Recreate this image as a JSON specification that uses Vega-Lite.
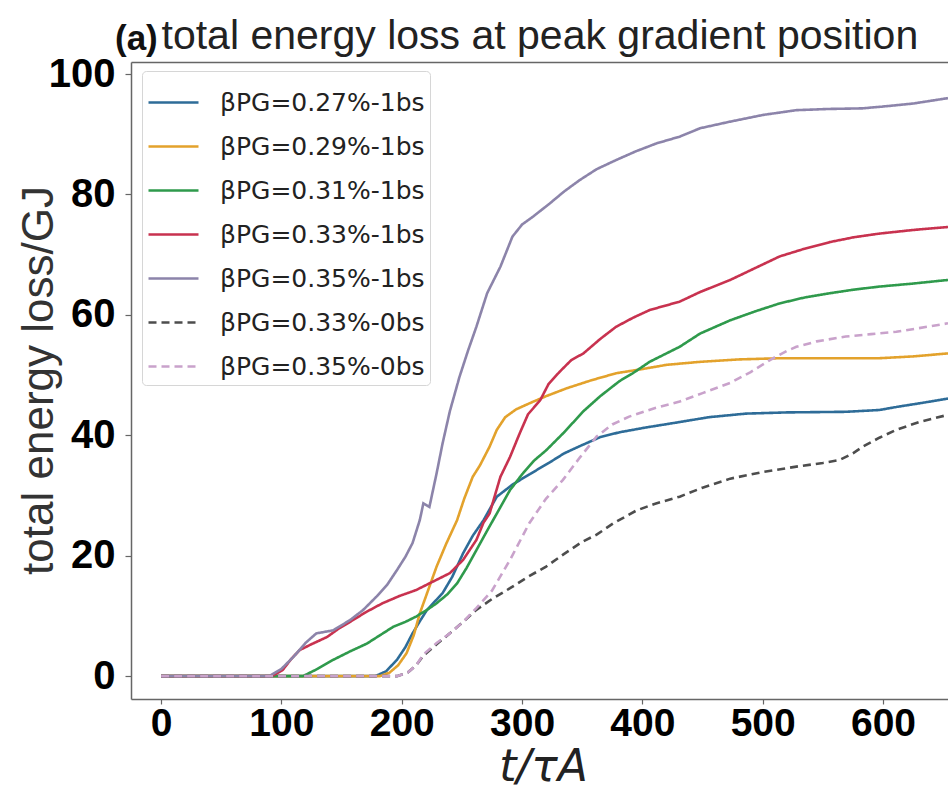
{
  "$schema": "https://vega.github.io/schema/vega-lite/v6.json",
  "width": 817,
  "height": 637,
  "autosize": {"type": "none"},
  "padding": {"left": 131, "top": 62, "right": 0, "bottom": 91},
  "background": "white",
  "title": {
    "text": "(a)",
    "anchor": "start",
    "frame": "group",
    "dx": -16,
    "dy": 46,
    "font": "Liberation Sans",
    "fontSize": 35,
    "fontWeight": "bold",
    "color": "#111"
  },
  "config": {
    "view": {"stroke": null},
    "axis": {
      "domainColor": "#666",
      "domainWidth": 1.5,
      "tickColor": "#666",
      "tickWidth": 1.2,
      "grid": false
    }
  },
  "datasets": {
    "curves": [
      {"s": "βPG=0.27%-1bs", "t": 0, "e": 0}, {"s": "βPG=0.27%-1bs", "t": 178, "e": 0}, {"s": "βPG=0.27%-1bs", "t": 187, "e": 0.8}, {"s": "βPG=0.27%-1bs", "t": 196, "e": 2.7}, {"s": "βPG=0.27%-1bs", "t": 203, "e": 4.8}, {"s": "βPG=0.27%-1bs", "t": 209, "e": 7.1}, {"s": "βPG=0.27%-1bs", "t": 215, "e": 9.1}, {"s": "βPG=0.27%-1bs", "t": 221, "e": 11}, {"s": "βPG=0.27%-1bs", "t": 228, "e": 12.5}, {"s": "βPG=0.27%-1bs", "t": 234, "e": 13.8}, {"s": "βPG=0.27%-1bs", "t": 242, "e": 16.5}, {"s": "βPG=0.27%-1bs", "t": 251, "e": 20.4}, {"s": "βPG=0.27%-1bs", "t": 259, "e": 23.3}, {"s": "βPG=0.27%-1bs", "t": 268, "e": 25.9}, {"s": "βPG=0.27%-1bs", "t": 279, "e": 29.8}, {"s": "βPG=0.27%-1bs", "t": 292, "e": 31.8}, {"s": "βPG=0.27%-1bs", "t": 306, "e": 33.5}, {"s": "βPG=0.27%-1bs", "t": 323, "e": 35.5}, {"s": "βPG=0.27%-1bs", "t": 335, "e": 37}, {"s": "βPG=0.27%-1bs", "t": 348, "e": 38.2}, {"s": "βPG=0.27%-1bs", "t": 365, "e": 39.7}, {"s": "βPG=0.27%-1bs", "t": 381, "e": 40.5}, {"s": "βPG=0.27%-1bs", "t": 403, "e": 41.3}, {"s": "βPG=0.27%-1bs", "t": 431, "e": 42.2}, {"s": "βPG=0.27%-1bs", "t": 455, "e": 43}, {"s": "βPG=0.27%-1bs", "t": 486, "e": 43.6}, {"s": "βPG=0.27%-1bs", "t": 520, "e": 43.8}, {"s": "βPG=0.27%-1bs", "t": 569, "e": 43.9}, {"s": "βPG=0.27%-1bs", "t": 597, "e": 44.2}, {"s": "βPG=0.27%-1bs", "t": 611, "e": 44.7}, {"s": "βPG=0.27%-1bs", "t": 630, "e": 45.3}, {"s": "βPG=0.27%-1bs", "t": 654, "e": 46.1},

      {"s": "βPG=0.29%-1bs", "t": 0, "e": 0}, {"s": "βPG=0.29%-1bs", "t": 182, "e": 0}, {"s": "βPG=0.29%-1bs", "t": 190, "e": 0.6}, {"s": "βPG=0.29%-1bs", "t": 197, "e": 1.8}, {"s": "βPG=0.29%-1bs", "t": 204, "e": 3.8}, {"s": "βPG=0.29%-1bs", "t": 210, "e": 6.8}, {"s": "βPG=0.29%-1bs", "t": 215, "e": 10.4}, {"s": "βPG=0.29%-1bs", "t": 222, "e": 14.3}, {"s": "βPG=0.29%-1bs", "t": 229, "e": 18.2}, {"s": "βPG=0.29%-1bs", "t": 237, "e": 22}, {"s": "βPG=0.29%-1bs", "t": 246, "e": 25.9}, {"s": "βPG=0.29%-1bs", "t": 252, "e": 29.5}, {"s": "βPG=0.29%-1bs", "t": 259, "e": 33.1}, {"s": "βPG=0.29%-1bs", "t": 265, "e": 35}, {"s": "βPG=0.29%-1bs", "t": 273, "e": 38.1}, {"s": "βPG=0.29%-1bs", "t": 279, "e": 40.9}, {"s": "βPG=0.29%-1bs", "t": 286, "e": 43}, {"s": "βPG=0.29%-1bs", "t": 295, "e": 44.3}, {"s": "βPG=0.29%-1bs", "t": 306, "e": 45.3}, {"s": "βPG=0.29%-1bs", "t": 320, "e": 46.5}, {"s": "βPG=0.29%-1bs", "t": 337, "e": 47.8}, {"s": "βPG=0.29%-1bs", "t": 357, "e": 49.1}, {"s": "βPG=0.29%-1bs", "t": 378, "e": 50.3}, {"s": "βPG=0.29%-1bs", "t": 400, "e": 51}, {"s": "βPG=0.29%-1bs", "t": 420, "e": 51.7}, {"s": "βPG=0.29%-1bs", "t": 448, "e": 52.2}, {"s": "βPG=0.29%-1bs", "t": 480, "e": 52.6}, {"s": "βPG=0.29%-1bs", "t": 514, "e": 52.8}, {"s": "βPG=0.29%-1bs", "t": 555, "e": 52.8}, {"s": "βPG=0.29%-1bs", "t": 597, "e": 52.8}, {"s": "βPG=0.29%-1bs", "t": 625, "e": 53.1}, {"s": "βPG=0.29%-1bs", "t": 654, "e": 53.6},

      {"s": "βPG=0.31%-1bs", "t": 0, "e": 0}, {"s": "βPG=0.31%-1bs", "t": 118, "e": 0}, {"s": "βPG=0.31%-1bs", "t": 130, "e": 1.2}, {"s": "βPG=0.31%-1bs", "t": 143, "e": 2.7}, {"s": "βPG=0.31%-1bs", "t": 157, "e": 4.1}, {"s": "βPG=0.31%-1bs", "t": 171, "e": 5.4}, {"s": "βPG=0.31%-1bs", "t": 182, "e": 6.8}, {"s": "βPG=0.31%-1bs", "t": 193, "e": 8.2}, {"s": "βPG=0.31%-1bs", "t": 203, "e": 9}, {"s": "βPG=0.31%-1bs", "t": 212, "e": 9.9}, {"s": "βPG=0.31%-1bs", "t": 221, "e": 11}, {"s": "βPG=0.31%-1bs", "t": 229, "e": 12.1}, {"s": "βPG=0.31%-1bs", "t": 238, "e": 13.6}, {"s": "βPG=0.31%-1bs", "t": 246, "e": 15.4}, {"s": "βPG=0.31%-1bs", "t": 254, "e": 18}, {"s": "βPG=0.31%-1bs", "t": 262, "e": 20.9}, {"s": "βPG=0.31%-1bs", "t": 270, "e": 23.8}, {"s": "βPG=0.31%-1bs", "t": 279, "e": 27}, {"s": "βPG=0.31%-1bs", "t": 290, "e": 30.9}, {"s": "βPG=0.31%-1bs", "t": 300, "e": 33.5}, {"s": "βPG=0.31%-1bs", "t": 310, "e": 35.8}, {"s": "βPG=0.31%-1bs", "t": 320, "e": 37.5}, {"s": "βPG=0.31%-1bs", "t": 335, "e": 40.5}, {"s": "βPG=0.31%-1bs", "t": 351, "e": 44}, {"s": "βPG=0.31%-1bs", "t": 365, "e": 46.5}, {"s": "βPG=0.31%-1bs", "t": 381, "e": 49}, {"s": "βPG=0.31%-1bs", "t": 392, "e": 50.3}, {"s": "βPG=0.31%-1bs", "t": 406, "e": 52.2}, {"s": "βPG=0.31%-1bs", "t": 420, "e": 53.6}, {"s": "βPG=0.31%-1bs", "t": 431, "e": 54.7}, {"s": "βPG=0.31%-1bs", "t": 448, "e": 56.9}, {"s": "βPG=0.31%-1bs", "t": 473, "e": 59.1}, {"s": "βPG=0.31%-1bs", "t": 494, "e": 60.6}, {"s": "βPG=0.31%-1bs", "t": 514, "e": 61.9}, {"s": "βPG=0.31%-1bs", "t": 535, "e": 62.9}, {"s": "βPG=0.31%-1bs", "t": 556, "e": 63.6}, {"s": "βPG=0.31%-1bs", "t": 576, "e": 64.2}, {"s": "βPG=0.31%-1bs", "t": 597, "e": 64.7}, {"s": "βPG=0.31%-1bs", "t": 625, "e": 65.2}, {"s": "βPG=0.31%-1bs", "t": 654, "e": 65.8},

      {"s": "βPG=0.33%-1bs", "t": 0, "e": 0}, {"s": "βPG=0.33%-1bs", "t": 92, "e": 0}, {"s": "βPG=0.33%-1bs", "t": 101, "e": 1}, {"s": "βPG=0.33%-1bs", "t": 108, "e": 2.8}, {"s": "βPG=0.33%-1bs", "t": 115, "e": 4.3}, {"s": "βPG=0.33%-1bs", "t": 125, "e": 5.3}, {"s": "βPG=0.33%-1bs", "t": 138, "e": 6.5}, {"s": "βPG=0.33%-1bs", "t": 147, "e": 7.8}, {"s": "βPG=0.33%-1bs", "t": 157, "e": 9}, {"s": "βPG=0.33%-1bs", "t": 170, "e": 10.6}, {"s": "βPG=0.33%-1bs", "t": 184, "e": 12.1}, {"s": "βPG=0.33%-1bs", "t": 198, "e": 13.3}, {"s": "βPG=0.33%-1bs", "t": 212, "e": 14.3}, {"s": "βPG=0.33%-1bs", "t": 222, "e": 15.3}, {"s": "βPG=0.33%-1bs", "t": 229, "e": 16}, {"s": "βPG=0.33%-1bs", "t": 240, "e": 17.1}, {"s": "βPG=0.33%-1bs", "t": 251, "e": 19.3}, {"s": "βPG=0.33%-1bs", "t": 262, "e": 22.6}, {"s": "βPG=0.33%-1bs", "t": 268, "e": 25.5}, {"s": "βPG=0.33%-1bs", "t": 273, "e": 27}, {"s": "βPG=0.33%-1bs", "t": 282, "e": 33.1}, {"s": "βPG=0.33%-1bs", "t": 290, "e": 36.4}, {"s": "βPG=0.33%-1bs", "t": 298, "e": 40.3}, {"s": "βPG=0.33%-1bs", "t": 305, "e": 43.5}, {"s": "βPG=0.33%-1bs", "t": 315, "e": 45.8}, {"s": "βPG=0.33%-1bs", "t": 322, "e": 48.5}, {"s": "βPG=0.33%-1bs", "t": 331, "e": 50.5}, {"s": "βPG=0.33%-1bs", "t": 341, "e": 52.5}, {"s": "βPG=0.33%-1bs", "t": 351, "e": 53.6}, {"s": "βPG=0.33%-1bs", "t": 365, "e": 56}, {"s": "βPG=0.33%-1bs", "t": 378, "e": 58}, {"s": "βPG=0.33%-1bs", "t": 392, "e": 59.5}, {"s": "βPG=0.33%-1bs", "t": 406, "e": 60.8}, {"s": "βPG=0.33%-1bs", "t": 431, "e": 62.2}, {"s": "βPG=0.33%-1bs", "t": 448, "e": 63.8}, {"s": "βPG=0.33%-1bs", "t": 473, "e": 65.8}, {"s": "βPG=0.33%-1bs", "t": 494, "e": 67.8}, {"s": "βPG=0.33%-1bs", "t": 514, "e": 69.7}, {"s": "βPG=0.33%-1bs", "t": 535, "e": 71}, {"s": "βPG=0.33%-1bs", "t": 556, "e": 72.1}, {"s": "βPG=0.33%-1bs", "t": 576, "e": 72.9}, {"s": "βPG=0.33%-1bs", "t": 597, "e": 73.5}, {"s": "βPG=0.33%-1bs", "t": 625, "e": 74.1}, {"s": "βPG=0.33%-1bs", "t": 654, "e": 74.6},

      {"s": "βPG=0.35%-1bs", "t": 0, "e": 0}, {"s": "βPG=0.35%-1bs", "t": 90, "e": 0}, {"s": "βPG=0.35%-1bs", "t": 100, "e": 1.2}, {"s": "βPG=0.35%-1bs", "t": 110, "e": 3.2}, {"s": "βPG=0.35%-1bs", "t": 120, "e": 5.5}, {"s": "βPG=0.35%-1bs", "t": 129, "e": 7.1}, {"s": "βPG=0.35%-1bs", "t": 143, "e": 7.6}, {"s": "βPG=0.35%-1bs", "t": 157, "e": 9.3}, {"s": "βPG=0.35%-1bs", "t": 168, "e": 11}, {"s": "βPG=0.35%-1bs", "t": 179, "e": 13.2}, {"s": "βPG=0.35%-1bs", "t": 188, "e": 15.2}, {"s": "βPG=0.35%-1bs", "t": 196, "e": 17.6}, {"s": "βPG=0.35%-1bs", "t": 203, "e": 19.8}, {"s": "βPG=0.35%-1bs", "t": 209, "e": 22.1}, {"s": "βPG=0.35%-1bs", "t": 215, "e": 25.9}, {"s": "βPG=0.35%-1bs", "t": 218, "e": 28.7}, {"s": "βPG=0.35%-1bs", "t": 223, "e": 28.1}, {"s": "βPG=0.35%-1bs", "t": 229, "e": 33.7}, {"s": "βPG=0.35%-1bs", "t": 234, "e": 38.7}, {"s": "βPG=0.35%-1bs", "t": 240, "e": 44}, {"s": "βPG=0.35%-1bs", "t": 248, "e": 49.7}, {"s": "βPG=0.35%-1bs", "t": 255, "e": 54}, {"s": "βPG=0.35%-1bs", "t": 262, "e": 58}, {"s": "βPG=0.35%-1bs", "t": 271, "e": 63.6}, {"s": "βPG=0.35%-1bs", "t": 282, "e": 68}, {"s": "βPG=0.35%-1bs", "t": 292, "e": 73}, {"s": "βPG=0.35%-1bs", "t": 300, "e": 75}, {"s": "βPG=0.35%-1bs", "t": 309, "e": 76.3}, {"s": "βPG=0.35%-1bs", "t": 323, "e": 78.5}, {"s": "βPG=0.35%-1bs", "t": 335, "e": 80.5}, {"s": "βPG=0.35%-1bs", "t": 348, "e": 82.4}, {"s": "βPG=0.35%-1bs", "t": 362, "e": 84.2}, {"s": "βPG=0.35%-1bs", "t": 378, "e": 85.7}, {"s": "βPG=0.35%-1bs", "t": 395, "e": 87.2}, {"s": "βPG=0.35%-1bs", "t": 412, "e": 88.5}, {"s": "βPG=0.35%-1bs", "t": 431, "e": 89.6}, {"s": "βPG=0.35%-1bs", "t": 448, "e": 91}, {"s": "βPG=0.35%-1bs", "t": 473, "e": 92.1}, {"s": "βPG=0.35%-1bs", "t": 500, "e": 93.2}, {"s": "βPG=0.35%-1bs", "t": 528, "e": 94}, {"s": "βPG=0.35%-1bs", "t": 555, "e": 94.2}, {"s": "βPG=0.35%-1bs", "t": 583, "e": 94.3}, {"s": "βPG=0.35%-1bs", "t": 605, "e": 94.7}, {"s": "βPG=0.35%-1bs", "t": 625, "e": 95.1}, {"s": "βPG=0.35%-1bs", "t": 654, "e": 96},

      {"s": "βPG=0.33%-0bs", "t": 0, "e": 0}, {"s": "βPG=0.33%-0bs", "t": 196, "e": 0}, {"s": "βPG=0.33%-0bs", "t": 205, "e": 0.6}, {"s": "βPG=0.33%-0bs", "t": 212, "e": 1.8}, {"s": "βPG=0.33%-0bs", "t": 218, "e": 3.4}, {"s": "βPG=0.33%-0bs", "t": 229, "e": 5.3}, {"s": "βPG=0.33%-0bs", "t": 240, "e": 7.1}, {"s": "βPG=0.33%-0bs", "t": 251, "e": 9}, {"s": "βPG=0.33%-0bs", "t": 262, "e": 11}, {"s": "βPG=0.33%-0bs", "t": 275, "e": 12.8}, {"s": "βPG=0.33%-0bs", "t": 290, "e": 14.6}, {"s": "βPG=0.33%-0bs", "t": 305, "e": 16.5}, {"s": "βPG=0.33%-0bs", "t": 320, "e": 18.2}, {"s": "βPG=0.33%-0bs", "t": 335, "e": 20.3}, {"s": "βPG=0.33%-0bs", "t": 350, "e": 22.3}, {"s": "βPG=0.33%-0bs", "t": 362, "e": 23.5}, {"s": "βPG=0.33%-0bs", "t": 376, "e": 25.4}, {"s": "βPG=0.33%-0bs", "t": 395, "e": 27.5}, {"s": "βPG=0.33%-0bs", "t": 410, "e": 28.6}, {"s": "βPG=0.33%-0bs", "t": 431, "e": 29.8}, {"s": "βPG=0.33%-0bs", "t": 450, "e": 31.3}, {"s": "βPG=0.33%-0bs", "t": 473, "e": 32.8}, {"s": "βPG=0.33%-0bs", "t": 500, "e": 33.9}, {"s": "βPG=0.33%-0bs", "t": 528, "e": 34.8}, {"s": "βPG=0.33%-0bs", "t": 550, "e": 35.4}, {"s": "βPG=0.33%-0bs", "t": 564, "e": 35.9}, {"s": "βPG=0.33%-0bs", "t": 575, "e": 37}, {"s": "βPG=0.33%-0bs", "t": 583, "e": 38.1}, {"s": "βPG=0.33%-0bs", "t": 597, "e": 39.6}, {"s": "βPG=0.33%-0bs", "t": 611, "e": 40.9}, {"s": "βPG=0.33%-0bs", "t": 630, "e": 42.2}, {"s": "βPG=0.33%-0bs", "t": 654, "e": 43.4},

      {"s": "βPG=0.35%-0bs", "t": 0, "e": 0}, {"s": "βPG=0.35%-0bs", "t": 196, "e": 0}, {"s": "βPG=0.35%-0bs", "t": 205, "e": 0.6}, {"s": "βPG=0.35%-0bs", "t": 212, "e": 1.8}, {"s": "βPG=0.35%-0bs", "t": 218, "e": 3.6}, {"s": "βPG=0.35%-0bs", "t": 229, "e": 5.5}, {"s": "βPG=0.35%-0bs", "t": 240, "e": 7.1}, {"s": "βPG=0.35%-0bs", "t": 251, "e": 9}, {"s": "βPG=0.35%-0bs", "t": 262, "e": 11.3}, {"s": "βPG=0.35%-0bs", "t": 275, "e": 14.2}, {"s": "βPG=0.35%-0bs", "t": 290, "e": 19.3}, {"s": "βPG=0.35%-0bs", "t": 306, "e": 25.4}, {"s": "βPG=0.35%-0bs", "t": 320, "e": 29.5}, {"s": "βPG=0.35%-0bs", "t": 334, "e": 32.6}, {"s": "βPG=0.35%-0bs", "t": 348, "e": 36.3}, {"s": "βPG=0.35%-0bs", "t": 362, "e": 39.8}, {"s": "βPG=0.35%-0bs", "t": 375, "e": 41.8}, {"s": "βPG=0.35%-0bs", "t": 389, "e": 43.1}, {"s": "βPG=0.35%-0bs", "t": 410, "e": 44.5}, {"s": "βPG=0.35%-0bs", "t": 431, "e": 45.6}, {"s": "βPG=0.35%-0bs", "t": 450, "e": 47}, {"s": "βPG=0.35%-0bs", "t": 473, "e": 48.7}, {"s": "βPG=0.35%-0bs", "t": 490, "e": 50.5}, {"s": "βPG=0.35%-0bs", "t": 506, "e": 52.5}, {"s": "βPG=0.35%-0bs", "t": 520, "e": 54}, {"s": "βPG=0.35%-0bs", "t": 528, "e": 54.7}, {"s": "βPG=0.35%-0bs", "t": 545, "e": 55.6}, {"s": "βPG=0.35%-0bs", "t": 569, "e": 56.4}, {"s": "βPG=0.35%-0bs", "t": 590, "e": 56.8}, {"s": "βPG=0.35%-0bs", "t": 611, "e": 57.2}, {"s": "βPG=0.35%-0bs", "t": 630, "e": 57.8}, {"s": "βPG=0.35%-0bs", "t": 654, "e": 58.6}
    ]
  },
  "data": {"name": "curves"},
  "resolve": {"axis": {"x": "independent"}},
  "layer": [
    {
      "mark": {"type": "line", "strokeWidth": 2.6, "clip": true},
      "encoding": {
        "x": {
          "field": "t", "type": "quantitative",
          "scale": {"domain": [-25, 654], "nice": false, "zero": false},
          "axis": {
            "orient": "bottom",
            "values": [0, 100, 200, 300, 400, 500, 600],
            "labelFont": "Liberation Sans",
            "labelFontSize": 39,
            "labelFontWeight": "bold",
            "labelColor": "#000",
            "tickSize": 5,
            "labelPadding": 0,
            "title": "t/τA",
            "titleFont": "DejaVu Sans",
            "titleFontStyle": "italic",
            "titleFontWeight": "normal",
            "titleFontSize": 44,
            "titleColor": "#222",
            "titleX": 412,
            "titleY": 81,
            "titleBaseline": "alphabetic"
          }
        },
        "y": {
          "field": "e", "type": "quantitative",
          "scale": {"domain": [-3.8, 102], "nice": false, "zero": false},
          "axis": {
            "values": [0, 20, 40, 60, 80, 100],
            "labelFont": "Liberation Sans",
            "labelFontSize": 40,
            "labelFontWeight": "bold",
            "labelColor": "#000",
            "tickSize": 6,
            "labelPadding": 10,
            "title": "total energy loss/GJ",
            "titleFont": "Liberation Sans",
            "titleFontWeight": "normal",
            "titleFontSize": 44,
            "titleColor": "#333",
            "titleX": -92,
            "titleY": 318,
            "titleBaseline": "middle"
          }
        },
        "color": {
          "field": "s", "type": "nominal",
          "scale": {
            "domain": ["βPG=0.27%-1bs", "βPG=0.29%-1bs", "βPG=0.31%-1bs", "βPG=0.33%-1bs", "βPG=0.35%-1bs", "βPG=0.33%-0bs", "βPG=0.35%-0bs"],
            "range": ["#2e6c98", "#e3a22c", "#2f9a4c", "#c8324f", "#8c84aa", "#4d4d4d", "#c9a2cb"]
          },
          "legend": {
            "title": null,
            "orient": "none",
            "legendX": 11,
            "legendY": 9,
            "symbolType": "stroke",
            "symbolSize": 2500,
            "symbolStrokeWidth": 2.6,
            "labelFont": "DejaVu Sans",
            "labelFontSize": 25,
            "labelColor": "#222",
            "labelOffset": 20,
            "labelLimit": 500,
            "rowPadding": 4,
            "padding": 5,
            "strokeColor": "#d6d6d6",
            "fillColor": "white",
            "cornerRadius": 4
          }
        },
        "strokeDash": {
          "field": "s", "type": "nominal",
          "scale": {
            "domain": ["βPG=0.27%-1bs", "βPG=0.29%-1bs", "βPG=0.31%-1bs", "βPG=0.33%-1bs", "βPG=0.35%-1bs", "βPG=0.33%-0bs", "βPG=0.35%-0bs"],
            "range": [[1, 0], [1, 0], [1, 0], [1, 0], [1, 0], [8, 5], [8, 5]]
          },
          "legend": {
            "title": null,
            "orient": "none",
            "legendX": 11,
            "legendY": 9,
            "symbolType": "stroke",
            "symbolSize": 2500,
            "symbolStrokeWidth": 2.6,
            "labelFont": "DejaVu Sans",
            "labelFontSize": 25,
            "labelColor": "#222",
            "labelOffset": 20,
            "labelLimit": 500,
            "rowPadding": 4,
            "padding": 5,
            "strokeColor": "#d6d6d6",
            "fillColor": "white",
            "cornerRadius": 4
          }
        }
      }
    },
    {
      "mark": {"type": "point", "opacity": 0},
      "encoding": {
        "x": {
          "field": "t", "type": "quantitative",
          "axis": {
            "orient": "top",
            "labels": false,
            "ticks": false,
            "domain": true,
            "domainColor": "#666",
            "domainWidth": 1.5,
            "title": "total energy loss at peak gradient position",
            "titleFont": "Liberation Sans",
            "titleFontWeight": "normal",
            "titleFontSize": 41,
            "titleColor": "#222",
            "titleAnchor": "start",
            "titleAlign": "left",
            "titleBaseline": "alphabetic",
            "titleX": 30,
            "titleY": -14
          }
        }
      }
    }
  ]
}
